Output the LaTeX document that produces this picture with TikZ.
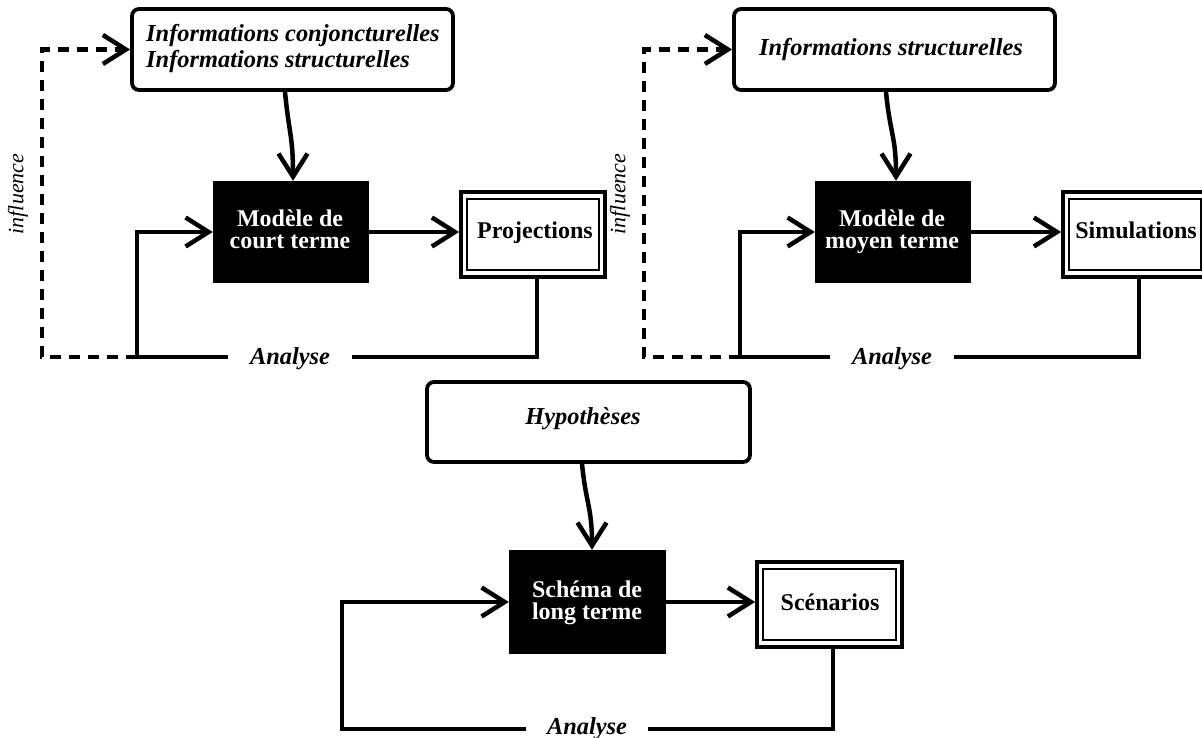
\documentclass[tikz,border=0pt]{standalone}
\usepackage{fontspec}
\setmainfont{Liberation Serif}
\usetikzlibrary{arrows.meta,calc}
\tikzset{
 ln/.style={line width=4.5pt},
 tipv/.tip={Straight Barb[length=23pt,width=29pt]},
 arr/.style={ln,-tipv},
 dsh/.style={ln,dash pattern=on 11pt off 8pt,-tipv},
 rbox/.style={draw,line width=3.8pt,rounded corners=7pt,inner sep=0pt},
 bbox/.style={fill=black,draw=none,inner sep=0pt,minimum width=156pt,minimum height=102pt},
 obox/.style={draw,line width=3.8pt,inner sep=0pt,minimum width=144pt,minimum height=85pt},
 ibox/.style={draw,line width=2.3pt,inner sep=0pt,minimum width=132pt,minimum height=71pt},
 itl/.style={font=\bfseries\itshape\fontsize{24.4}{27}\selectfont,inner sep=0pt},
 bld/.style={font=\bfseries\fontsize{24}{27}\selectfont,inner sep=0pt},
 wht/.style={font=\bfseries\fontsize{24}{22}\selectfont,text=white,align=center,inner sep=0pt},
 infl/.style={font=\itshape\fontsize{22}{22}\selectfont,rotate=90,inner sep=0pt},
}
\begin{document}
\begin{tikzpicture}[x=1pt,y=-1pt]
\useasboundingbox (0,0) rectangle (1202,738);
\clip (0,0) rectangle (1202,738);
\fill[white] (0,0) rectangle (1202,738);

% ---------- Panel 1 ----------
\node[rbox,minimum width=321pt,minimum height=81pt] (top1) at (292.5,49.5) {};
\node[itl,anchor=base west] (t1a) at (146,42) {Informations conjoncturelles};
\node[itl,anchor=base west] (t1b) at (146,68) {Informations structurelles};
\node[bbox] (blk1) at (291,232) {};
\node[wht] (b1t) at (290,229) {Modèle de\\court terme};
\node[obox] (proj1) at (533,234.5) {};
\node[ibox] (proj1i) at (proj1) {};
\node[bld,anchor=base] (p1t) at (535,238) {Projections};
\node[itl,anchor=base,inner xsep=22pt] (an1) at (290,364) {Analyse};
\node[infl] (in1) at (18,194) {influence};
\coordinate (r1) at (537,357);
\coordinate (j1) at (137,357);
\coordinate (d1) at (42,357);
\draw[arr] ($(top1.south)+(-7.5,0)$) .. controls +(4,42) and +(0,-45) .. ($(blk1.north)+(2,0)$);
\draw[arr] (blk1.east) -- (blk1.east -| proj1.west);
\draw[ln] (proj1.south -| r1) -- (r1) -- (an1.east |- r1);
\draw[arr] (an1.west |- r1) -- (j1) |- (blk1.west);
\draw[dsh] (j1) -- (d1) |- (top1.west);

% ---------- Panel 2 ----------
\node[rbox,minimum width=321pt,minimum height=81pt] (top2) at (894.5,49.5) {};
\node[itl,anchor=base] (t2) at (891,56) {Informations structurelles};
\node[bbox] (blk2) at (893,232) {};
\node[wht] (b2t) at (892,231.5) {Modèle de\\moyen terme};
\node[obox] (sim) at (1135,234.5) {};
\node[ibox] (simi) at (sim) {};
\node[bld,anchor=base] (s2t) at (1136,238) {Simulations};
\node[itl,anchor=base,inner xsep=22pt] (an2) at (892,364) {Analyse};
\node[infl] (in2) at (620,194) {influence};
\coordinate (r2) at (1139,357);
\coordinate (j2) at (740,357);
\coordinate (d2) at (644,357);
\draw[arr] ($(top2.south)+(-8.5,0)$) .. controls +(4,42) and +(0,-45) .. ($(blk2.north)+(3,0)$);
\draw[arr] (blk2.east) -- (blk2.east -| sim.west);
\draw[ln] (sim.south -| r2) -- (r2) -- (an2.east |- r2);
\draw[arr] (an2.west |- r2) -- (j2) |- (blk2.west);
\draw[dsh] (j2) -- (d2) |- (top2.west);

% ---------- Panel 3 ----------
\node[rbox,minimum width=323pt,minimum height=80pt] (top3) at (588.5,422) {};
\node[itl,anchor=base] (t3) at (583,424) {Hypothèses};
\node[bbox,minimum width=157pt,minimum height=104pt] (blk3) at (587.5,602) {};
\node[wht] (b3t) at (587,602.5) {Schéma de\\long terme};
\node[obox,minimum width=145pt] (scen) at (829.5,604.5) {};
\node[ibox,minimum width=133pt] (sceni) at (scen) {};
\node[bld,anchor=base] (s3t) at (830,610) {Scénarios};
\node[itl,anchor=base,inner xsep=21pt] (an3) at (587,734.5) {Analyse};
\coordinate (r3) at (833,729);
\coordinate (j3) at (342,729);
\draw[arr] ($(top3.south)+(-6.5,0)$) .. controls +(4,40) and +(0,-42) .. ($(blk3.north)+(4.5,0)$);
\draw[arr] (blk3.east) -- (blk3.east -| scen.west);
\draw[ln] (scen.south -| r3) -- (r3) -- (an3.east |- r3);
\draw[arr] (an3.west |- r3) -- (j3) |- (blk3.west);
\end{tikzpicture}
\end{document}
